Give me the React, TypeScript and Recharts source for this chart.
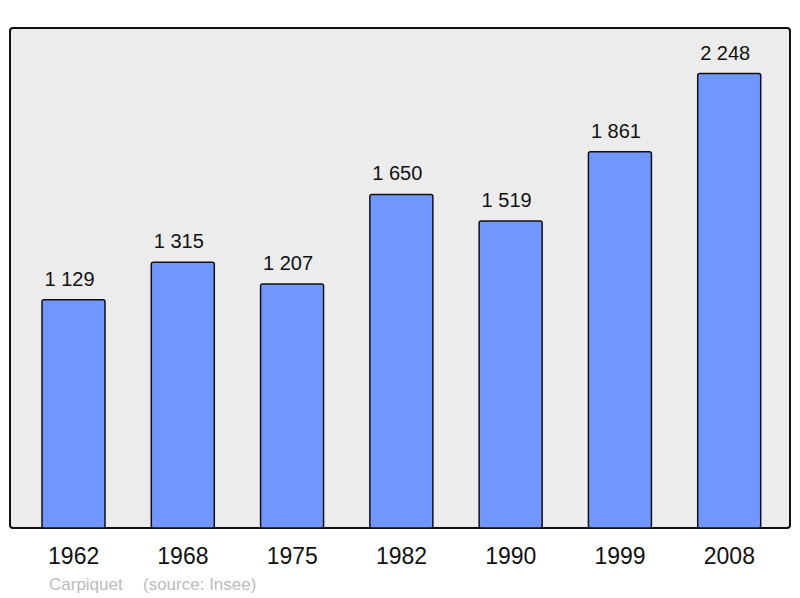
import React from 'react';
import { BarChart, Bar, XAxis, YAxis, LabelList } from 'recharts';

const years = ['1962', '1968', '1975', '1982', '1990', '1999', '2008'];
const population = [1129, 1315, 1207, 1650, 1519, 1861, 2248];

const data = years.map((year, i) => ({ year, population: population[i] }));

const fmt = (v: any) => String(v).replace(/\B(?=(\d{3})+(?!\d))/g, ' ');

const font = '"Liberation Sans", Arial, sans-serif';

const App: React.FC = () => {
  return (
    <div style={{ position: 'absolute', left: 0, top: 0, width: 800, height: 598, fontFamily: font }}>
      <div
        style={{
          position: 'absolute',
          left: 9,
          top: 27,
          width: 782,
          height: 502,
          boxSizing: 'border-box',
          border: '2px solid #111',
          borderRadius: 4,
          background: '#ececec',
        }}
      />
      <div style={{ position: 'absolute', left: 0, top: 0 }}>
        <BarChart width={800} height={598} data={data} margin={{ top: 27, right: 10, bottom: 0, left: 9 }}>
          <XAxis
            dataKey="year"
            height={70}
            axisLine={false}
            tickLine={false}
            tickSize={0}
            tickMargin={20}
            padding={{ left: 10, right: 6 }}
            tick={{ fontSize: 23, fill: '#111', fontFamily: font }}
          />
          <YAxis hide domain={[0, 2478]} />
          <Bar
            dataKey="population"
            fill="#7097ff"
            stroke="#111"
            strokeWidth={1.5}
            barSize={63}
            radius={2}
            isAnimationActive={false}
          >
            <LabelList
              dataKey="population"
              position="top"
              offset={14}
              dx={-4}
              formatter={fmt}
              style={{ fontSize: 20, fill: '#111', fontFamily: font }}
            />
          </Bar>
        </BarChart>
      </div>
      <div style={{ position: 'absolute', left: 49, top: 575, fontSize: 17, color: '#bbbbbb', whiteSpace: 'pre' }}>
        Carpiquet
      </div>
      <div style={{ position: 'absolute', left: 143, top: 575, fontSize: 17, color: '#bbbbbb', whiteSpace: 'pre' }}>
        (source: Insee)
      </div>
    </div>
  );
};

export default App;
